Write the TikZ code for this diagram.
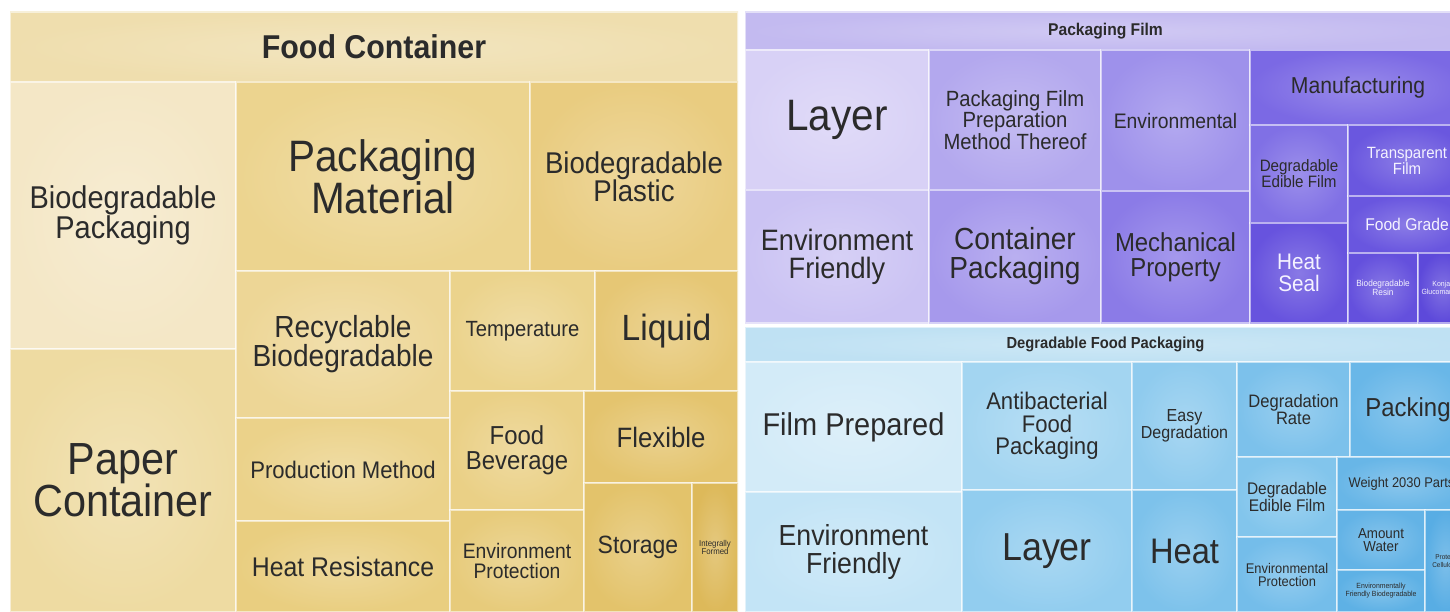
\documentclass[tikz,border=0pt]{standalone}
\usepackage{fontspec}
\setmainfont[FakeStretch=0.92]{Liberation Sans}
% yellow
\definecolor{yT}{HTML}{EFDEAE}
\definecolor{yBP}{HTML}{F4E7C6}
\definecolor{yPC}{HTML}{EEDBA2}
\definecolor{yPM}{HTML}{ECD48F}
\definecolor{yBPl}{HTML}{E9CC80}
\definecolor{yRB}{HTML}{EDD696}
\definecolor{yPrM}{HTML}{EBD28A}
\definecolor{yHR}{HTML}{E9CE80}
\definecolor{yTe}{HTML}{EBD38C}
\definecolor{yLi}{HTML}{E6C775}
\definecolor{yFB}{HTML}{EAD086}
\definecolor{yEP}{HTML}{E7CB7B}
\definecolor{yFl}{HTML}{E4C46E}
\definecolor{ySt}{HTML}{E3C36B}
\definecolor{yIF}{HTML}{DDB95A}
% purple
\definecolor{pT}{HTML}{C3BAF0}
\definecolor{pLa}{HTML}{D8D1F6}
\definecolor{pEF}{HTML}{CBC3F3}
\definecolor{pFP}{HTML}{B3A8EE}
\definecolor{pCP}{HTML}{A699EC}
\definecolor{pEn}{HTML}{9E91EB}
\definecolor{pMP}{HTML}{8B7BE7}
\definecolor{pMa}{HTML}{7B69E4}
\definecolor{pDE}{HTML}{8070E5}
\definecolor{pHS}{HTML}{6753DE}
\definecolor{pTF}{HTML}{6A57DF}
\definecolor{pFG}{HTML}{6956DF}
\definecolor{pBR}{HTML}{6450DD}
\definecolor{pKG}{HTML}{5D49DA}
% blue
\definecolor{bT}{HTML}{BFE1F3}
\definecolor{bFP}{HTML}{D3EBF8}
\definecolor{bEF}{HTML}{C3E4F6}
\definecolor{bAF}{HTML}{A3D5F1}
\definecolor{bLa}{HTML}{92CDEF}
\definecolor{bED}{HTML}{8FCBEE}
\definecolor{bHe}{HTML}{7DC2EB}
\definecolor{bDR}{HTML}{7CC1EB}
\definecolor{bPk}{HTML}{69B7E8}
\definecolor{bDE}{HTML}{82C5EC}
\definecolor{bEP}{HTML}{74BDEA}
\definecolor{bWe}{HTML}{68B6E7}
\definecolor{bAW}{HTML}{63B3E6}
\definecolor{bFB}{HTML}{5EB1E5}
\definecolor{bPC}{HTML}{58ADE4}
\definecolor{tc}{HTML}{2B2B2B}
\definecolor{wt}{HTML}{F4F2FF}
\tikzset{cellbox/.style={draw=white,draw opacity=0.55,line width=1.4pt,inner sep=0pt,outer sep=0pt,align=center,text=tc}}
\newcommand{\tmcell}[9]{\node[cellbox,inner color=#6!78!white,outer color=#6,
  minimum width={(#4-#2)*1pt},minimum height={(#5-#3)*1pt},
  font=\fontsize{#7pt}{#8pt}\selectfont] (#1) at ({(#2+#4)/2},{(#3+#5)/2}) {#9};}
\begin{document}
\begin{tikzpicture}[x=1pt,y=-1pt]
\useasboundingbox (0,0) rectangle (1450,612);
\clip (0,0) rectangle (1450,612);
\fill[white] (0,0) rectangle (1450,612);
% ---------- Food Container ----------
\tmcell{fc}{10}{12}{738}{82}{yT}{33}{36}{\bfseries Food Container}
\tmcell{bp}{10}{82}{236}{349}{yBP}{31.5}{30}{Biodegradable\\Packaging}
\tmcell{pc}{10}{349}{236}{612}{yPC}{45}{42}{Paper\\Container}
\tmcell{pm}{236}{82}{530}{271}{yPM}{44}{41}{Packaging\\Material}
\tmcell{bpl}{530}{82}{738}{271}{yBPl}{30}{28}{Biodegradable\\Plastic}
\tmcell{rb}{236}{271}{450}{418}{yRB}{30.5}{29}{Recyclable\\Biodegradable}
\tmcell{prm}{236}{418}{450}{521}{yPrM}{24}{24}{Production Method}
\tmcell{hr}{236}{521}{450}{612}{yHR}{27}{27}{Heat Resistance}
\tmcell{tmp}{450}{271}{595}{391}{yTe}{22}{22}{Temperature}
\tmcell{liq}{595}{271}{738}{391}{yLi}{36.5}{36}{Liquid}
\tmcell{fb}{450}{391}{584}{510}{yFB}{26}{25}{Food\\Beverage}
\tmcell{ep}{450}{510}{584}{612}{yEP}{21}{20}{Environment\\Protection}
\tmcell{flx}{584}{391}{738}{483}{yFl}{28}{28}{Flexible}
\tmcell{sto}{584}{483}{692}{612}{ySt}{25}{25}{Storage}
\tmcell{inf}{692}{483}{738}{612}{yIF}{8.5}{8.5}{Integrally\\Formed}
% ---------- Packaging Film ----------
\tmcell{pf}{745}{12}{1466}{50}{pT}{17}{17}{\bfseries Packaging Film}
\tmcell{ply}{745}{50}{929}{190}{pLa}{44}{44}{Layer}
\tmcell{pef}{745}{190}{929}{323}{pEF}{29.5}{28}{Environment\\Friendly}
\tmcell{pfp}{929}{50}{1101}{190}{pFP}{22}{20.5}{Packaging Film\\Preparation\\Method Thereof}
\tmcell{pcp}{929}{190}{1101}{323}{pCP}{30.5}{29}{Container\\Packaging}
\tmcell{pen}{1101}{50}{1250}{191}{pEn}{21}{21}{Environmental}
\tmcell{pmp}{1101}{191}{1250}{323}{pMP}{26}{25}{Mechanical\\Property}
\tmcell{pma}{1250}{50}{1466}{125}{pMa}{23}{23}{Manufacturing}
\tmcell{pde}{1250}{125}{1348}{223}{pDE}{16.5}{16}{Degradable\\Edible Film}
\tmcell{phs}{1250}{223}{1348}{323}{pHS}{22.5}{22}{\textcolor{wt}{Heat}\\\textcolor{wt}{Seal}}
\tmcell{ptf}{1348}{125}{1466}{196}{pTF}{16.3}{16}{\textcolor{wt}{Transparent}\\\textcolor{wt}{Film}}
\tmcell{pfg}{1348}{196}{1466}{253}{pFG}{17}{17}{\textcolor{wt}{Food Grade}}
\tmcell{pbr}{1348}{253}{1418}{323}{pBR}{9}{8.5}{\textcolor{wt}{Biodegradable}\\\textcolor{wt}{Resin}}
\tmcell{pkg}{1418}{253}{1468}{323}{pKG}{7.5}{8}{\textcolor{wt}{Konjac}\\\textcolor{wt}{Glucomannan}}
% ---------- Degradable Food Packaging ----------
\tmcell{df}{745}{327}{1466}{362}{bT}{16}{16}{\bfseries Degradable Food Packaging}
\tmcell{bfp}{745}{362}{962}{492}{bFP}{31.5}{31}{Film Prepared}
\tmcell{bef}{745}{492}{962}{612}{bEF}{29}{28}{Environment\\Friendly}
\tmcell{baf}{962}{362}{1132}{490}{bAF}{24}{22.5}{Antibacterial\\Food\\Packaging}
\tmcell{bly}{962}{490}{1132}{612}{bLa}{39}{39}{Layer}
\tmcell{bed}{1132}{362}{1237}{490}{bED}{17.4}{16}{Easy\\Degradation}
\tmcell{bht}{1132}{490}{1237}{612}{bHe}{35.5}{35}{Heat}
\tmcell{bdr}{1237}{362}{1350}{457}{bDR}{18}{17}{Degradation\\Rate}
\tmcell{bpk}{1350}{362}{1466}{457}{bPk}{26}{26}{Packing}
\tmcell{bde}{1237}{457}{1337}{537}{bDE}{16.8}{15.5}{Degradable\\Edible Film}
\tmcell{bep}{1237}{537}{1337}{612}{bEP}{14}{13}{Environmental\\Protection}
\tmcell{bw}{1337}{457}{1466}{510}{bWe}{14}{14}{Weight 2030 Parts}
\tmcell{baw}{1337}{510}{1425}{570}{bAW}{14.5}{13.5}{Amount\\Water}
\tmcell{bfb}{1337}{570}{1425}{612}{bFB}{7.5}{8}{Environmentally\\Friendly Biodegradable}
\tmcell{bpc}{1425}{510}{1466}{612}{bPC}{7}{7.5}{Protein\\Cellulose}
\end{tikzpicture}
\end{document}
